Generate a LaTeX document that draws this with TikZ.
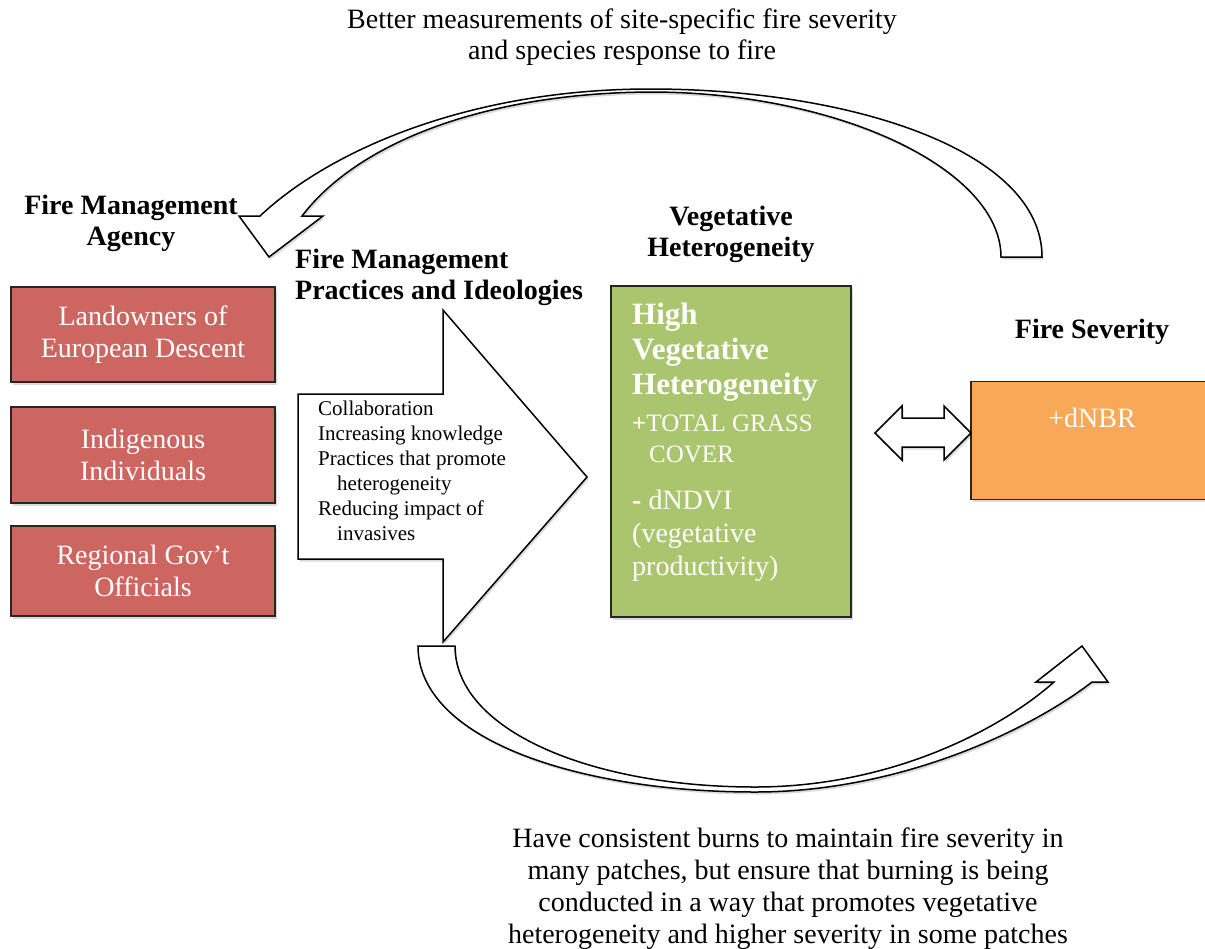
\documentclass[tikz,border=0pt]{standalone}
\usepackage{fontspec}
\setmainfont{Liberation Serif}
\usetikzlibrary{shadows}
\definecolor{redfill}{RGB}{205,102,97}
\definecolor{greenfill}{RGB}{171,197,110}
\definecolor{orangefill}{RGB}{249,168,88}
\newcommand\myfs[2]{\fontsize{#1}{#2}\selectfont}
\tikzset{
  shd/.style={drop shadow={shadow xshift=1.5pt, shadow yshift=-2.5pt, opacity=0.15, fill=black}},
  txt/.style={inner sep=0pt, text=black},
  hdr/.style={txt, font=\myfs{28}{31}\bfseries, align=center},
  colbox/.style={draw=black!85, line width=1.6pt, shd, inner sep=0pt},
  redbox/.style={colbox, fill=redfill, minimum width=264pt, text=white, align=center, font=\myfs{28}{32}},
  shapeline/.style={draw=black, line width=1.5pt, fill=white, line join=miter, shd},
}
\begin{document}
\begin{tikzpicture}[x=1pt, y=-1pt]
\useasboundingbox (0,0) rectangle (1205,948);

% top and bottom texts
\node[txt, align=center, font=\myfs{28}{31}] (toptext) at (622,37)
  {Better measurements of site-specific fire severity\\and species response to fire};
\node[txt, align=center, font=\myfs{28}{32}] (bottext) at (788,889)
  {Have consistent burns to maintain fire severity in\\many patches, but ensure that burning is being\\conducted in a way that promotes vegetative\\heterogeneity and higher severity in some patches};

% top curved arrow
\path[shapeline] (1001,257) -- (1042,257)
  .. controls (1042,150) and (850,89) .. (650,89)
  .. controls (470,89) and (330,150) .. (260,216)
  -- (239,216) -- (269,257) -- (323,216) -- (302,216)
  .. controls (360,140) and (490,93) .. (650,92)
  .. controls (840,92) and (1001,170) .. (1001,257) -- cycle;

% bottom curved arrow
\path[shapeline] (418,646) -- (455,646)
  .. controls (455,730) and (590,787) .. (755,787)
  .. controls (890,787) and (1000,730) .. (1054,682)
  -- (1036,682) -- (1082,646) -- (1108,682) -- (1092,682)
  .. controls (1030,730) and (900,792) .. (755,792)
  .. controls (580,792) and (418,740) .. (418,646) -- cycle;

% headers
\node[hdr] (agency) at (131,223) {Fire Management\\Agency};
\node[hdr, align=left, anchor=west] (practices) at (295,277) {Fire Management\\Practices and Ideologies};
\node[hdr] (veghead) at (731,234) {Vegetative\\Heterogeneity};
\node[hdr] (sevhead) at (1092,332) {Fire Severity};

% red boxes
\node[redbox, minimum height=95pt] (land) at (143,334.5) {Landowners of\\European Descent};
\node[redbox, minimum height=96pt] (indig) at (143,455) {Indigenous\\Individuals};
\node[redbox, minimum height=90pt] (gov) at (143,571) {Regional Gov’t\\Officials};

% block arrow
\path[shapeline] (298,394) -- (443,394) -- (443,310) -- (587,477) -- (443,642)
  -- (443,559) -- (298,559) -- cycle;
\node[txt, align=left, anchor=west, font=\myfs{21}{25}] (practlist) at (318,471)
  {Collaboration\\Increasing knowledge\\Practices that promote\\\hspace*{19pt}heterogeneity\\Reducing impact of\\\hspace*{19pt}invasives};

% green box
\node[colbox, fill=greenfill, minimum width=240pt, minimum height=331pt] (veg) at (731,451.5) {};
\node[txt, text=white, align=left, anchor=west, font=\myfs{31}{35}\bfseries] (vegtitle) at (632,352)
  {High\\Vegetative\\Heterogeneity};
\node[txt, text=white, align=left, anchor=west, font=\myfs{25}{31}] (grass) at (632,439)
  {\textbf{+}TOTAL GRASS\\\hspace*{17pt}COVER};
\node[txt, text=white, align=left, anchor=west, font=\myfs{28}{33}] (ndvi) at (632,536)
  {\textbf{-} dNDVI\\(vegetative\\productivity)};

% orange box
\node[colbox, fill=orangefill, minimum width=244pt, minimum height=118pt] (sev) at (1093,440.5) {};
\node[txt, text=white, font=\myfs{28}{32}] (nbr) at (1092,418) {+dNBR};

% double arrow
\path[shapeline] (875,433) -- (902,406) -- (902,418) -- (944,418) -- (944,406) -- (971,433)
  -- (944,460) -- (944,447) -- (902,447) -- (902,460) -- cycle;
\end{tikzpicture}
\end{document}
